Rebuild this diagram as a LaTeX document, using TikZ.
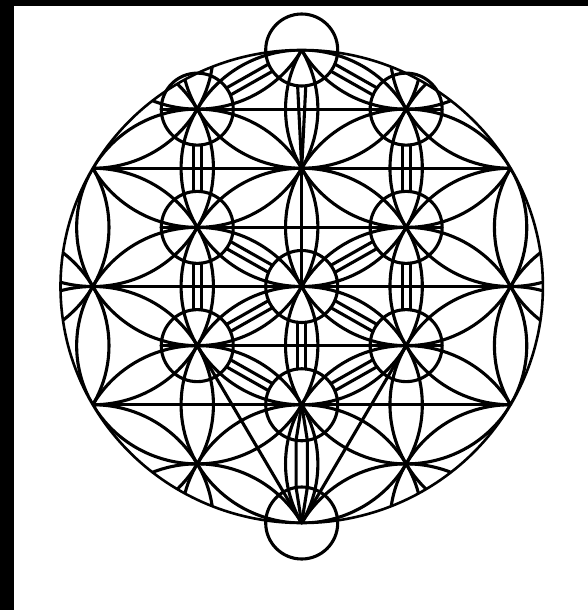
\documentclass[tikz,border=0pt]{standalone}
\usetikzlibrary{calc}
\newcommand\tolchan[2]{%
  \draw ($(#1)!36pt!6.5:(#2)$) -- ($(#2)!36pt!-6.5:(#1)$);
  \draw ($(#1)!36pt!-6.5:(#2)$) -- ($(#2)!36pt!6.5:(#1)$);}
\begin{document}
\begin{tikzpicture}[x=1pt,y=-1pt,line width=3.1pt,line join=round,line cap=round,
  seph/.style={circle,draw,line width=3.1pt,minimum size=72pt,inner sep=0pt,outer sep=0pt}]
\useasboundingbox (0,0) rectangle (588,610);
\fill[black] (0,0) rectangle (14,610);
\fill[black] (0,0) rectangle (588,6);
\begin{scope}[shift={(301.7,286.5)},x=120.6pt,y=118.25pt]
 \begin{scope}
  \clip (0,0) circle[radius=2];
  \foreach \a in {-4,...,4}{\foreach \b in {-4,...,4}{\draw (\b*0.8660254,\a+\b/2) circle[radius=1];}}
 \end{scope}
 \draw[line width=2.6pt] (0,0) circle[radius=2];
 \node[seph] (kether) at (0,2) {};
 \node[seph] (binah) at (-0.8660254,1.5) {};
 \node[seph] (chokmah) at (0.8660254,1.5) {};
 \coordinate (daath) at (0,1);
 \node[seph] (geburah) at (-0.8660254,0.5) {};
 \node[seph] (chesed) at (0.8660254,0.5) {};
 \node[seph] (tiphareth) at (0,0) {};
 \node[seph] (hod) at (-0.8660254,-0.5) {};
 \node[seph] (netzach) at (0.8660254,-0.5) {};
 \node[seph] (yesod) at (0,-1) {};
 \node[seph] (malkuth) at (0,-2) {};
 \coordinate (l1) at (-1.7320508,1);
 \coordinate (r1) at (1.7320508,1);
 \coordinate (l2) at (-1.7320508,0);
 \coordinate (r2) at (1.7320508,0);
 \coordinate (l3) at (-1.7320508,-1);
 \coordinate (r3) at (1.7320508,-1);
 % horizontal lines
 \draw ($(binah)!-36pt!(chokmah)$) -- ($(chokmah)!-36pt!(binah)$);
 \draw ($(geburah)!-36pt!(chesed)$) -- ($(chesed)!-36pt!(geburah)$);
 \draw ($(hod)!-36pt!(netzach)$) -- ($(netzach)!-36pt!(hod)$);
 \draw (l1) -- (r1);
 \draw (l2) -- (r2);
 \draw (l3) -- (r3);
 % channels
 \tolchan{kether}{binah}
 \tolchan{kether}{chokmah}
 \draw ($(kether)!36pt!6.5:(daath)$) -- (daath.center);
 \draw ($(kether)!36pt!-6.5:(daath)$) -- (daath.center);
 \draw (daath) -- (tiphareth.center);
 \tolchan{binah}{geburah}
 \tolchan{chokmah}{chesed}
 \tolchan{geburah}{tiphareth}
 \tolchan{chesed}{tiphareth}
 \tolchan{geburah}{hod}
 \tolchan{chesed}{netzach}
 \tolchan{tiphareth}{hod}
 \tolchan{tiphareth}{netzach}
 \tolchan{tiphareth}{yesod}
 \tolchan{hod}{yesod}
 \tolchan{netzach}{yesod}
 \draw (yesod.center) -- ($(yesod)!36pt!9:(malkuth)$) -- ($(malkuth)!36pt!-9:(yesod)$) -- (malkuth.center);
 \draw (yesod.center) -- ($(yesod)!36pt!-9:(malkuth)$) -- ($(malkuth)!36pt!9:(yesod)$) -- (malkuth.center);
 \draw (hod.center) -- (malkuth.center);
 \draw (netzach.center) -- (malkuth.center);
\end{scope}
\end{tikzpicture}
\end{document}
